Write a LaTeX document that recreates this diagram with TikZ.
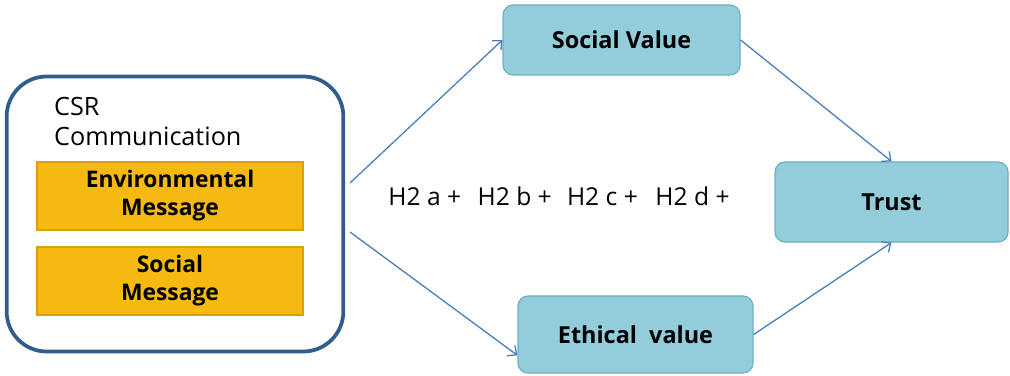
\documentclass[tikz,border=0pt]{standalone}
\usepackage{fontspec}
\setmainfont{Open Sans}
\usetikzlibrary{arrows.meta}
\definecolor{frameblue}{HTML}{2F5D8E}
\definecolor{msgorange}{HTML}{F5B910}
\definecolor{msgedge}{HTML}{D9A20C}
\definecolor{valblue}{HTML}{93CDDC}
\definecolor{valedge}{HTML}{6FAFC2}
\definecolor{linkblue}{HTML}{4A7EBB}
\begin{document}
\begin{tikzpicture}[x=0.03cm, y=-0.03cm,
    msgbox/.style={draw=msgedge, fill=msgorange, line width=1pt, minimum width=7.98cm,
        minimum height=2.04cm, align=center, font=\fontsize{19.5}{24}\selectfont\bfseries},
    valbox/.style={draw=valedge, fill=valblue, line width=1pt, rounded corners=0.3cm,
        align=center, font=\fontsize{20}{24}\selectfont\bfseries},
    link/.style={draw=linkblue, line width=1.1pt, -{Straight Barb[length=6pt,width=11pt]}}]
        \useasboundingbox (0,0) rectangle (1010,376);
        % CSR communication frame
        \node[draw=frameblue, line width=3.2pt, rounded corners=1.2cm, minimum width=10.1cm,
            minimum height=8.25cm] (csr) at (175,214) {};
        \node[anchor=north west, inner sep=0pt, align=left,
            font=\fontsize{21.5}{25.5}\selectfont] (csrtitle) at (54,97) {CSR\\Communication};

        % Messages
        \node[msgbox] (env) at (170,196) {Environmental\\Message};
        \node[msgbox] (socmsg) at (170,281) {Social\\Message};

        % Values and trust
        \node[valbox, minimum width=7.11cm, minimum height=2.1cm] (socval) at (621.5,40) {Social Value};
        \node[valbox, minimum width=6.99cm, minimum height=2.4cm] (trust) at (891.5,202) {Trust};
        \node[valbox, minimum width=7.05cm, minimum height=2.31cm] (ethval) at (635.5,334.5) {Ethical\ \ value};

        % Hypotheses
        \node[font=\fontsize{21}{25}\selectfont] (hyp) at (559,196)
            {H2 a +\hspace{14pt}H2 b +\hspace{13pt}H2 c +\hspace{15pt}H2 d +};

        % Paths
        \coordinate (up) at (350,183);
        \coordinate (dn) at (350,232);
        \draw[link] (up) -- (socval.west);
        \draw[link] (socval.east) -- (trust.north);
        \draw[link] (dn) -- (ethval.190);
        \draw[link] (ethval.east) -- (trust.south);
\end{tikzpicture}
\end{document}
